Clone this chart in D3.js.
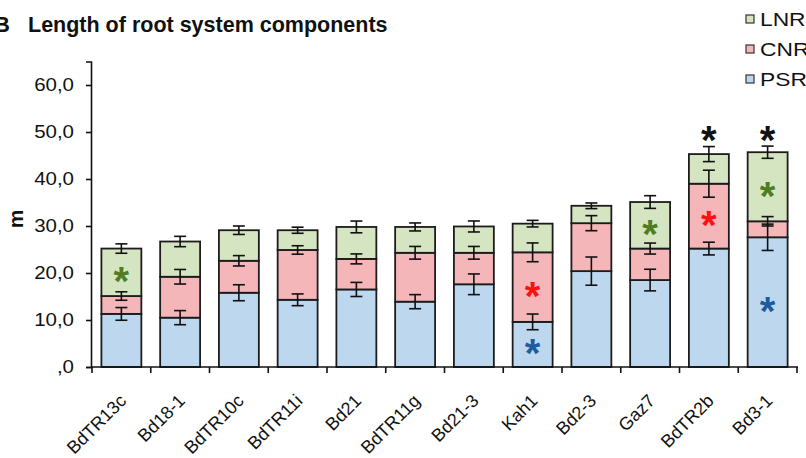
<!DOCTYPE html>
<html>
<head>
<meta charset="utf-8">
<script src="https://cdn.jsdelivr.net/npm/d3@7"></script>
<style>
  html, body { margin: 0; padding: 0; background: #fff; }
  svg { display: block; font-family: "Liberation Sans", Arial, sans-serif; }
</style>
</head>
<body>
<svg id="chart" width="806" height="458"></svg>
<script>
// Accessions along the x axis
const categories = ["BdTR13c", "Bd18-1", "BdTR10c", "BdTR11i", "Bd21", "BdTR11g",
                    "Bd21-3", "Kah1", "Bd2-3", "Gaz7", "BdTR2b", "Bd3-1"];

// Root length components (m), stacked bottom to top: PSR, CNR, LNR
const psr = [11.3, 10.5, 15.8, 14.3, 16.5, 13.9, 17.6, 9.6, 20.4, 18.5, 25.2, 27.6];
const cnr = [3.8, 8.7, 6.8, 10.6, 6.5, 10.4, 6.7, 14.8, 10.2, 6.7, 13.8, 3.4];
const lnr = [10.1, 7.5, 6.5, 4.2, 6.8, 5.5, 5.6, 6.1, 3.7, 9.9, 6.3, 14.7];

// Standard errors for each component
const psrErr = [1.35, 1.5, 1.7, 1.25, 1.5, 1.5, 2.2, 1.67, 3.0, 2.3, 1.35, 2.8];
const cnrErr = [0.9, 1.55, 1.1, 0.9, 1.06, 1.35, 1.35, 2.0, 1.6, 1.17, 2.87, 1.0];
const lnrErr = [1.0, 1.1, 0.9, 0.65, 1.25, 0.85, 1.17, 0.7, 0.6, 1.35, 1.6, 1.3];

// Series names and y tick values
const seriesNames = ["PSR", "CNR", "LNR"];
const yTicks = [0, 10, 20, 30, 40, 50, 60];

// Significance asterisks: [accession, component ("Total" = whole root system)]
const sigMarks = [
  ["BdTR13c", "LNR"], ["Kah1", "CNR"], ["Kah1", "PSR"], ["Gaz7", "LNR"],
  ["BdTR2b", "CNR"], ["BdTR2b", "Total"], ["Bd3-1", "LNR"], ["Bd3-1", "PSR"], ["Bd3-1", "Total"]
];

const fills = { PSR: "#bdd7ee", CNR: "#f4b6b8", LNR: "#d5e5c2" };
const starColors = { PSR: "#1f5c9e", CNR: "#ff1010", LNR: "#4f7d24", Total: "#111" };
const stretch = 1.17; // horizontally widened lettering

const svg = d3.select("#chart");
const margin = { left: 91, right: 9, top: 61, bottom: 91 };
const W = 806, H = 458;

const x = d3.scaleBand().domain(categories)
  .range([margin.left + 1, W - margin.right]).paddingInner(0.32).paddingOuter(0.16);
const y = d3.scaleLinear().domain([0, 65]).range([367, 367 - 65 * 4.7]);

// Build stacked rows
const rows = categories.map((c, i) => ({
  name: c, PSR: psr[i], CNR: cnr[i], LNR: lnr[i],
  err: { PSR: psrErr[i], CNR: cnrErr[i], LNR: lnrErr[i] }
}));
const stacked = d3.stack().keys(seriesNames)(rows);

// Bars
const gBars = svg.append("g");
stacked.forEach(layer => {
  gBars.selectAll(null).data(layer).enter().append("rect")
    .attr("x", d => x(d.data.name))
    .attr("width", x.bandwidth())
    .attr("y", d => y(d[1]))
    .attr("height", d => y(d[0]) - y(d[1]))
    .attr("fill", fills[layer.key])
    .attr("stroke", "#1c1c1c")
    .attr("stroke-width", 1.8);
});

// Error bars at the top of each segment
const gErr = svg.append("g").attr("stroke", "#111").attr("stroke-width", 1.6).attr("fill", "none");
stacked.forEach(layer => {
  layer.forEach(d => {
    const cx = x(d.data.name) + x.bandwidth() / 2;
    const e = d.data.err[layer.key];
    const y1 = y(d[1] + e), y2 = y(d[1] - e);
    gErr.append("line").attr("x1", cx).attr("x2", cx).attr("y1", y1).attr("y2", y2);
    gErr.append("line").attr("x1", cx - 6).attr("x2", cx + 6).attr("y1", y1).attr("y2", y1);
    gErr.append("line").attr("x1", cx - 6).attr("x2", cx + 6).attr("y1", y2).attr("y2", y2);
  });
});

// Y axis
const yAxis = d3.axisLeft(y).tickValues(yTicks).tickSize(5).tickPadding(12)
  .tickFormat(v => v === 0 ? ",0" : v.toFixed(1).replace(".", ","));
const gy = svg.append("g").attr("transform", `translate(${margin.left},0)`).call(yAxis);
gy.select(".domain").attr("stroke", "#111").attr("stroke-width", 1.6);
gy.selectAll(".tick line").attr("stroke", "#111").attr("stroke-width", 1.6);
gy.selectAll(".tick text")
  .attr("font-size", 17.5).attr("fill", "#111").attr("font-family", "Liberation Sans, Arial, sans-serif")
  .each(function () {
    const t = d3.select(this);
    const xx = +t.attr("x");
    t.attr("x", null).attr("transform", `translate(${xx},0) scale(${stretch},1)`);
  });

// X axis line with ticks at the category boundaries
const gx = svg.append("g");
gx.append("line").attr("x1", margin.left).attr("x2", W - margin.right + 1)
  .attr("y1", y(0)).attr("y2", y(0)).attr("stroke", "#111").attr("stroke-width", 1.6);
const bounds = categories.map(c => x(c) - x.step() * x.paddingInner() / 2)
  .concat([x(categories[categories.length - 1]) + x.bandwidth() + x.step() * x.paddingInner() / 2]);
gx.selectAll(null).data(bounds).enter().append("line")
  .attr("x1", d => d).attr("x2", d => d)
  .attr("y1", y(0)).attr("y2", y(0) + 6)
  .attr("stroke", "#111").attr("stroke-width", 1.6);

// Rotated category labels
gx.selectAll(null).data(categories).enter().append("text")
  .attr("transform", d => `translate(${x(d) + x.bandwidth() / 2 + 6},${y(0) + 35}) rotate(-45)`)
  .attr("text-anchor", "end")
  .attr("font-size", 18)
  .attr("fill", "#111")
  .text(d => d);

// Y axis title
svg.append("text")
  .attr("transform", `translate(23,${(y(0) + y(60)) / 2 - 7}) rotate(-90)`)
  .attr("text-anchor", "middle")
  .attr("font-size", 21).attr("font-weight", "bold").attr("fill", "#111")
  .text("m");

// Significance asterisks
const starSize = 40;
sigMarks.forEach(([cat, comp]) => {
  const i = categories.indexOf(cat);
  const cx = x(cat) + x.bandwidth() / 2;
  let cy;
  if (comp === "Total") {
    const top = psr[i] + cnr[i] + lnr[i] + lnrErr[i];
    cy = y(top) - 15;
  } else {
    const layer = stacked[seriesNames.indexOf(comp)][i];
    cy = (y(layer[0]) + y(layer[1])) / 2;
  }
  svg.append("text")
    .attr("x", cx).attr("y", cy + starSize * 0.57)
    .attr("text-anchor", "middle")
    .attr("font-size", starSize).attr("font-weight", "bold")
    .attr("fill", starColors[comp])
    .text("*");
});

// Legend (top to bottom: LNR, CNR, PSR)
const legendItems = ["LNR", "CNR", "PSR"];
const gl = svg.append("g");
legendItems.forEach((k, j) => {
  const cy = 19 + j * 30;
  gl.append("rect").attr("x", 746).attr("y", cy - 4).attr("width", 8).attr("height", 8)
    .attr("fill", fills[k]).attr("stroke", "#333").attr("stroke-width", 1.2);
  gl.append("text")
    .attr("transform", `translate(760,${cy + 7}) scale(1.2,1)`)
    .attr("font-size", 19).attr("fill", "#111").text(k);
});

// Panel title
const gt = svg.append("g").attr("font-weight", "bold").attr("fill", "#111");
gt.append("text").attr("x", -6).attr("y", 32).attr("font-size", 22).text("B");
gt.append("text").attr("x", 28).attr("y", 32).attr("font-size", 21.5)
  .text("Length of root system components");
</script>
</body>
</html>
